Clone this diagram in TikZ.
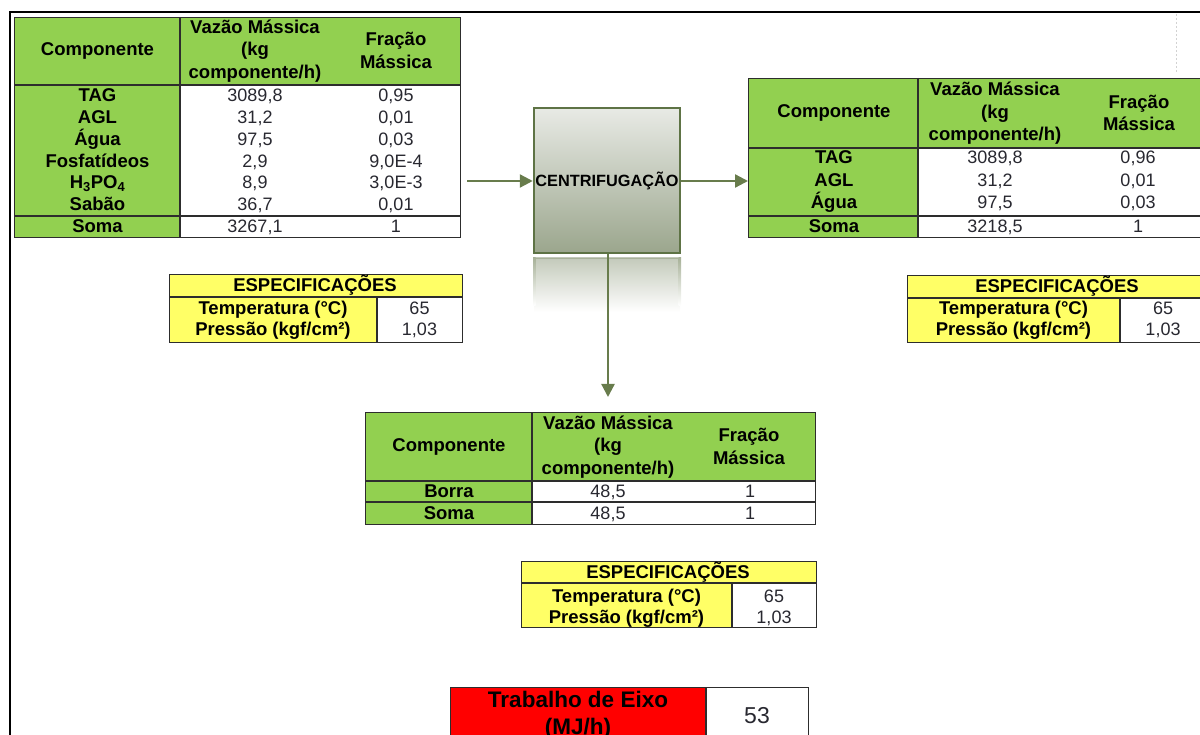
\documentclass[tikz,border=0pt]{standalone}
\usepackage{fontspec}
\setmainfont{Liberation Sans}
\usetikzlibrary{arrows.meta}

\definecolor{cellgreen}{RGB}{146,208,80}
\definecolor{specyellow}{RGB}{255,255,102}
\definecolor{flowgreen}{RGB}{104,124,76}
\definecolor{gridline}{RGB}{45,45,45}
\definecolor{boxtop}{RGB}{232,234,229}
\definecolor{boxbot}{RGB}{155,166,141}
\definecolor{boxedge}{RGB}{94,115,69}
\definecolor{mirrortop}{RGB}{196,202,187}
\definecolor{mirroredge}{RGB}{168,178,153}
\definecolor{valtext}{RGB}{40,40,48}

\begin{document}
\begin{tikzpicture}[x=1pt,y=-1pt,
  grid/.style={draw=gridline, line width=1.4pt},
  tabframe/.style={draw=gridline, line width=1.4pt, inner sep=0pt, anchor=north west},
  hdr/.style={font=\fontsize{18.5}{22.5}\selectfont\bfseries, align=center, inner sep=0pt},
  lbl/.style={font=\fontsize{18.5}{22}\selectfont\bfseries, inner sep=0pt, anchor=base},
  val/.style={font=\fontsize{18}{22}\selectfont, inner sep=0pt, anchor=base, text=valtext},
  flow/.style={draw=flowgreen, line width=2.3pt, -{Triangle[length=13pt,width=13pt]}},
]
\useasboundingbox (0,0) rectangle (1200,735);
\clip (0,0) rectangle (1200,735);

% sheet frame
\draw[black, line width=2pt] (10,745) -- (10,12.5) -- (1210,12.5);
\draw[gray!35, dash pattern=on 2pt off 2pt, line width=0.8pt] (1176,14) -- (1176,73);

% ---------- feed stream table ----------
\fill[cellgreen] (14,17) rectangle (460,85);
\fill[cellgreen] (14,85) rectangle (180,237);
\fill[white] (180,85) rectangle (460,237);
\draw[grid] (180,17) -- (180,237) (14,85) -- (460,85) (14,216) -- (460,216);
\node[tabframe, minimum width=446pt, minimum height=220pt] (tabFeed) at (14,17) {};
\node[hdr] (feedH1) at (97.5,50.5) {Componente};
\node[hdr] (feedH2) at (255,51) {Vazão Mássica\\(kg\\componente/h)};
\node[hdr] (feedH3) at (396,50.5) {Fração\\Mássica};
\node[lbl] (feedN1) at (97.5,102) {TAG};
\node[lbl] (feedN2) at (97.5,123.7) {AGL};
\node[lbl] (feedN3) at (97.5,145.4) {Água};
\node[lbl] (feedN4) at (97.5,167.1) {Fosfatídeos};
\node[lbl] (feedN5) at (97.5,188.8) {H\textsubscript{3}PO\textsubscript{4}};
\node[lbl] (feedN6) at (97.5,210.5) {Sabão};
\node[lbl] (feedN7) at (97.5,233) {Soma};
\node[val] (feedQ1) at (255,102) {3089,8};
\node[val] (feedQ2) at (255,123.7) {31,2};
\node[val] (feedQ3) at (255,145.4) {97,5};
\node[val] (feedQ4) at (255,167.1) {2,9};
\node[val] (feedQ5) at (255,188.8) {8,9};
\node[val] (feedQ6) at (255,210.5) {36,7};
\node[val] (feedQ7) at (255,233) {3267,1};
\node[val] (feedF1) at (396,102) {0,95};
\node[val] (feedF2) at (396,123.7) {0,01};
\node[val] (feedF3) at (396,145.4) {0,03};
\node[val] (feedF4) at (396,167.1) {9,0E-4};
\node[val] (feedF5) at (396,188.8) {3,0E-3};
\node[val] (feedF6) at (396,210.5) {0,01};
\node[val] (feedF7) at (396,233) {1};

% ---------- feed conditions ----------
\fill[specyellow] (169,274) rectangle (462,342);
\fill[white] (377,297) rectangle (462,342);
\draw[grid] (169,297) -- (462,297) (377,297) -- (377,342);
\node[tabframe, minimum width=293pt, minimum height=68pt] (specFeed) at (169,274) {};
\node[lbl] (specFeedT) at (315,292) {ESPECIFICAÇÕES};
\node[lbl] (specFeedA) at (273,315) {Temperatura (°C)};
\node[lbl] (specFeedB) at (273,336) {Pressão (kgf/cm²)};
\node[val] (specFeedC) at (419.5,315) {65};
\node[val] (specFeedD) at (419.5,336) {1,03};

% ---------- oil stream table ----------
\fill[cellgreen] (748,78) rectangle (1206,148);
\fill[cellgreen] (748,148) rectangle (918,237);
\fill[white] (918,148) rectangle (1206,237);
\draw[grid] (918,78) -- (918,237) (748,148) -- (1206,148) (748,216) -- (1206,216);
\node[tabframe, minimum width=458pt, minimum height=159pt] (tabOil) at (748,78) {};
\node[hdr] (oilH1) at (834,113) {Componente};
\node[hdr] (oilH2) at (995,113.5) {Vazão Mássica\\(kg\\componente/h)};
\node[hdr] (oilH3) at (1139,113) {Fração\\Mássica};
\node[lbl] (oilN1) at (834,164) {TAG};
\node[lbl] (oilN2) at (834,186.5) {AGL};
\node[lbl] (oilN3) at (834,209) {Água};
\node[lbl] (oilN4) at (834,232.5) {Soma};
\node[val] (oilQ1) at (995,164) {3089,8};
\node[val] (oilQ2) at (995,186.5) {31,2};
\node[val] (oilQ3) at (995,209) {97,5};
\node[val] (oilQ4) at (995,232.5) {3218,5};
\node[val] (oilF1) at (1138,164) {0,96};
\node[val] (oilF2) at (1138,186.5) {0,01};
\node[val] (oilF3) at (1138,209) {0,03};
\node[val] (oilF4) at (1138,232.5) {1};

% ---------- oil conditions ----------
\fill[specyellow] (907,275) rectangle (1206,342);
\fill[white] (1120,298) rectangle (1206,342);
\draw[grid] (907,298) -- (1206,298) (1120,298) -- (1120,342);
\node[tabframe, minimum width=299pt, minimum height=67pt] (specOil) at (907,275) {};
\node[lbl] (specOilT) at (1057,292.5) {ESPECIFICAÇÕES};
\node[lbl] (specOilA) at (1013.5,315) {Temperatura (°C)};
\node[lbl] (specOilB) at (1013.5,336) {Pressão (kgf/cm²)};
\node[val] (specOilC) at (1163,315) {65};
\node[val] (specOilD) at (1163,336) {1,03};

% ---------- sludge stream table ----------
\fill[cellgreen] (365,412) rectangle (815,481);
\fill[cellgreen] (365,481) rectangle (532,524);
\fill[white] (532,481) rectangle (815,524);
\draw[grid] (532,412) -- (532,524) (365,481) -- (815,481) (365,502) -- (815,502);
\node[tabframe, minimum width=450pt, minimum height=112pt] (tabSludge) at (365,412) {};
\node[hdr] (sludgeH1) at (449,446.5) {Componente};
\node[hdr] (sludgeH2) at (608,447) {Vazão Mássica\\(kg\\componente/h)};
\node[hdr] (sludgeH3) at (749,446.5) {Fração\\Mássica};
\node[lbl] (sludgeN1) at (449,497.5) {Borra};
\node[lbl] (sludgeN2) at (449,519.5) {Soma};
\node[val] (sludgeQ1) at (608,497.5) {48,5};
\node[val] (sludgeQ2) at (608,519.5) {48,5};
\node[val] (sludgeF1) at (750,497.5) {1};
\node[val] (sludgeF2) at (750,519.5) {1};

% ---------- sludge conditions ----------
\fill[specyellow] (521,561) rectangle (816,627);
\fill[white] (732,583) rectangle (816,627);
\draw[grid] (521,583) -- (816,583) (732,583) -- (732,627);
\node[tabframe, minimum width=295pt, minimum height=66pt] (specSludge) at (521,561) {};
\node[lbl] (specSludgeT) at (668,578) {ESPECIFICAÇÕES};
\node[lbl] (specSludgeA) at (626.5,602.5) {Temperatura (°C)};
\node[lbl] (specSludgeB) at (626.5,623) {Pressão (kgf/cm²)};
\node[val] (specSludgeC) at (774,602.5) {65};
\node[val] (specSludgeD) at (774,623) {1,03};

% ---------- shaft work ----------
\fill[red] (450,687) rectangle (706,760);
\fill[white] (706,687) rectangle (808,760);
\draw[grid] (706,687) -- (706,760);
\node[tabframe, minimum width=358pt, minimum height=73pt] (work) at (450,687) {};
\node[lbl, font=\fontsize{22.5}{27}\selectfont\bfseries] (workA) at (578,707.3) {Trabalho de Eixo};
\node[lbl, font=\fontsize{22.5}{27}\selectfont\bfseries] (workB) at (578,734.5) {(MJ/h)};
\node[val, font=\fontsize{23}{27}\selectfont] (workC) at (757,723.3) {53};

% ---------- centrifuge ----------
\shade[top color=mirrortop, bottom color=white] (534,258) rectangle (680,312);
\draw[mirroredge, line width=1.5pt] (534.5,258.5) -- (679.5,258.5);
\shade[top color=mirroredge, bottom color=white] (533,258) rectangle (535.5,306);
\shade[top color=mirroredge, bottom color=white] (678.5,258) rectangle (681,306);
\node[draw=boxedge, line width=2.5pt, top color=boxtop, bottom color=boxbot,
      minimum width=146pt, minimum height=145pt, inner sep=0pt,
      font=\fontsize{16.3}{19}\selectfont\bfseries] (cf) at (607,180.5) {CENTRIFUGAÇÃO};

% ---------- streams ----------
\coordinate (feedIn) at (467,181);
\coordinate (sludgeOut) at (608,397);
\draw[flow] (feedIn) -- (feedIn -| cf.west);
\draw[flow] (cf.east |- feedIn) -- (feedIn -| tabOil.west);
\draw[flow] (cf.south -| sludgeOut) -- (sludgeOut);
\end{tikzpicture}
\end{document}
